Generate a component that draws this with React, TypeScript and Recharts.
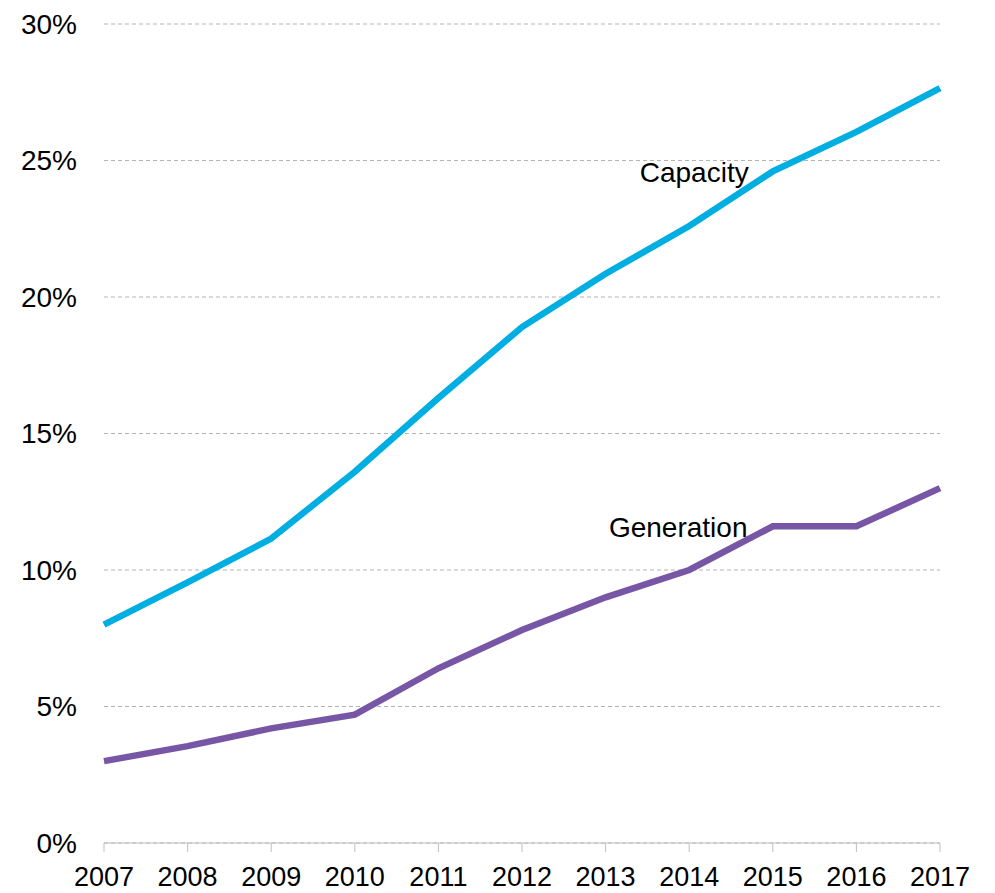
import React from 'react';
import { CartesianGrid, LabelList, Line, LineChart, XAxis, YAxis } from 'recharts';

const years = ['2007', '2008', '2009', '2010', '2011', '2012', '2013', '2014', '2015', '2016', '2017'];
const capacity = [8.0, 9.55, 11.15, 13.6, 16.3, 18.9, 20.85, 22.6, 24.6, 26.05, 27.65];
const generation = [3.0, 3.55, 4.2, 4.7, 6.4, 7.8, 9.0, 10.0, 11.6, 11.6, 13.0];
const yTicks = [0, 5, 10, 15, 20, 25, 30];

const data = years.map((year, i) => ({
  year,
  capacity: capacity[i],
  generation: generation[i],
}));

const FONT = '"Liberation Sans", Arial, sans-serif';

// draws the series name next to one chosen point only
const seriesLabel = (text: string, at: number, dx: number, dy: number) => (props: any) => {
  if (props.index !== at) return null;
  return (
    <text
      x={props.x + dx}
      y={props.y + dy}
      textAnchor="middle"
      dominantBaseline="central"
      fontSize={28}
      fontFamily={FONT}
      fill="#000"
    >
      {text}
    </text>
  );
};

export default function App() {
  return (
    <div style={{ position: 'absolute', left: 0, top: 0, background: '#fff' }}>
      <LineChart width={995} height={893} data={data} margin={{ top: 24, right: 55, bottom: 0, left: 0 }}>
        <CartesianGrid vertical={false} stroke="#b3b3b3" strokeDasharray="4 3" />
        <XAxis
          dataKey="year"
          height={50}
          stroke="#bfbfbf"
          tickSize={9}
          tickMargin={15}
          tick={{ fill: '#000', fontSize: 27, fontFamily: FONT }}
          interval={0}
        />
        <YAxis
          width={104}
          domain={[0, 30]}
          ticks={yTicks}
          axisLine={false}
          tickLine={false}
          tickSize={0}
          tickMargin={27}
          tickFormatter={(v) => `${v}%`}
          tick={{ fill: '#000', fontSize: 28, fontFamily: FONT }}
        />
        <Line
          dataKey="capacity"
          stroke="#00AEE2"
          strokeWidth={6.5}
          dot={false}
          isAnimationActive={false}
        >
          <LabelList dataKey="capacity" content={seriesLabel('Capacity', 7, 5, -54)} />
        </Line>
        <Line
          dataKey="generation"
          stroke="#7856A6"
          strokeWidth={6.5}
          dot={false}
          isAnimationActive={false}
        >
          <LabelList dataKey="generation" content={seriesLabel('Generation', 7, -11, -43)} />
        </Line>
      </LineChart>
    </div>
  );
}
